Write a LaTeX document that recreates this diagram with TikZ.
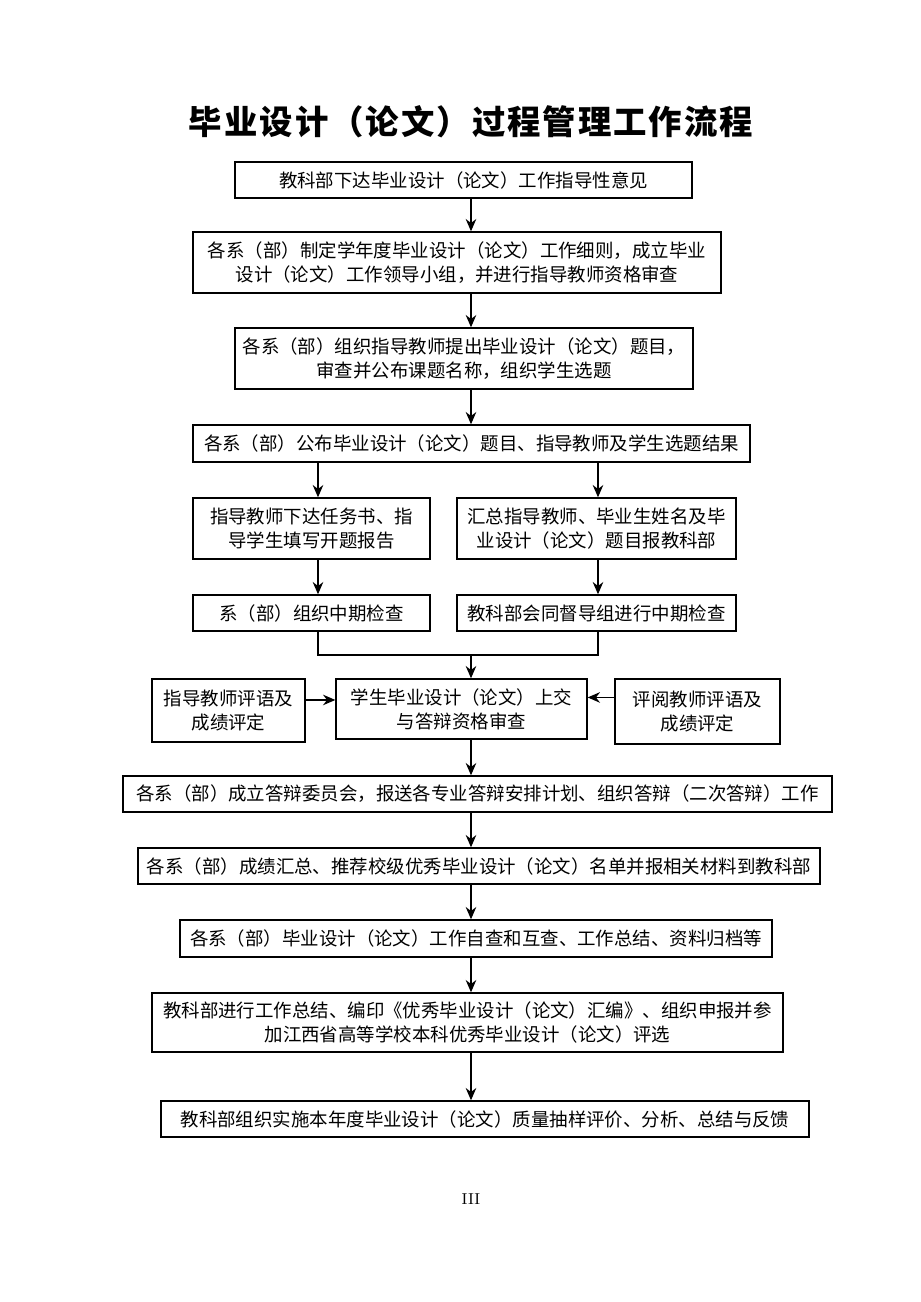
\documentclass[tikz,border=0pt]{standalone}
\usepackage{fontspec}
\newfontfamily\cjk{Noto Sans CJK SC}
\newfontfamily\cjktitle[LetterSpace=6]{Noto Sans CJK SC}
\usetikzlibrary{arrows.meta,positioning}

\begin{document}
\begin{tikzpicture}[x=0.02cm,y=-0.02cm,
    stepbox/.style={draw,line width=0.8pt,align=center,inner sep=2pt,
      font=\cjk\fontsize{10.5}{13.6}\selectfont},
    flow/.style={-{Stealth[length=7pt,width=6pt]},line width=0.8pt}]
  \useasboundingbox[fill=white] (0,0) rectangle (920,1302);

  % title
  \node[font=\cjktitle\bfseries\fontsize{19}{22}\selectfont] (T) at (471,122) {毕业设计（论文）过程管理工作流程};

  % columns for the connectors
  \coordinate (S) at (471,0);
  \coordinate (CL) at (318,0);
  \coordinate (CR) at (598,0);
  \coordinate (J) at (471,655);

  \node[stepbox,minimum width=9.14cm,minimum height=0.72cm] (B1) at (463.5,180) {教科部下达毕业设计（论文）工作指导性意见};
  \node[stepbox,minimum width=10.56cm,minimum height=1.22cm] (B2) at (457,262.5) {各系（部）制定学年度毕业设计（论文）工作细则，成立毕业\\设计（论文）工作领导小组，并进行指导教师资格审查};
  \node[stepbox,minimum width=9.16cm,minimum height=1.22cm] (B3) at (464,358.5) {各系（部）组织指导教师提出毕业设计（论文）题目，\\审查并公布课题名称，组织学生选题};
  \node[stepbox,minimum width=11.14cm,minimum height=0.74cm] (B4) at (471.5,443.5) {各系（部）公布毕业设计（论文）题目、指导教师及学生选题结果};

  \node[stepbox,minimum width=4.74cm,minimum height=1.22cm] (B5L) at (311.5,528.5) {指导教师下达任务书、指\\导学生填写开题报告};
  \node[stepbox,minimum width=5.58cm,minimum height=1.22cm] (B5R) at (596.5,528.5) {汇总指导教师、毕业生姓名及毕\\业设计（论文）题目报教科部};
  \node[stepbox,minimum width=4.74cm,minimum height=0.72cm] (B6L) at (311.5,613) {系（部）组织中期检查};
  \node[stepbox,minimum width=5.58cm,minimum height=0.72cm] (B6R) at (596.5,613) {教科部会同督导组进行中期检查};

  \node[stepbox,minimum width=5.02cm,minimum height=1.2cm] (B7) at (461.5,709) {学生毕业设计（论文）上交\\与答辩资格审查};
  \node[stepbox,minimum width=3.06cm,minimum height=1.26cm] (L7) at (228.5,710.5) {指导教师评语及\\成绩评定};
  \node[stepbox,minimum width=3.3cm,minimum height=1.3cm] (R7) at (697.5,711.5) {评阅教师评语及\\成绩评定};

  \node[stepbox,minimum width=14.18cm,minimum height=0.72cm] (B8) at (477.5,794) {各系（部）成立答辩委员会，报送各专业答辩安排计划、组织答辩（二次答辩）工作};
  \node[stepbox,minimum width=13.64cm,minimum height=0.72cm] (B9) at (479,866) {各系（部）成绩汇总、推荐校级优秀毕业设计（论文）名单并报相关材料到教科部};
  \node[stepbox,minimum width=11.84cm,minimum height=0.74cm] (B10) at (476,938.5) {各系（部）毕业设计（论文）工作自查和互查、工作总结、资料归档等};
  \node[stepbox,minimum width=12.62cm,minimum height=1.18cm] (B11) at (467.5,1022.5) {教科部进行工作总结、编印《优秀毕业设计（论文）汇编》、组织申报并参\\加江西省高等学校本科优秀毕业设计（论文）评选};
  \node[stepbox,minimum width=12.96cm,minimum height=0.72cm] (B12) at (485,1119) {教科部组织实施本年度毕业设计（论文）质量抽样评价、分析、总结与反馈};

  % page number
  \node[font=\fontsize{9}{10}\selectfont] (P) at (471,1199) {III};

  % connectors
  \draw[flow] (B1.south -| S) -- (B2.north -| S);
  \draw[flow] (B2.south -| S) -- (B3.north -| S);
  \draw[flow] (B3.south -| S) -- (B4.north -| S);
  \draw[flow] (B4.south -| CL) -- (B5L.north -| CL);
  \draw[flow] (B4.south -| CR) -- (B5R.north -| CR);
  \draw[flow] (B5L.south -| CL) -- (B6L.north -| CL);
  \draw[flow] (B5R.south -| CR) -- (B6R.north -| CR);
  \draw[line width=0.8pt] (B6L.south -| CL) |- (J) -| (B6R.south -| CR);
  \draw[flow] (J) -- (B7.north -| J);
  \draw[flow] ([yshift=6]L7.east) -- ([yshift=6]L7.east -| B7.west);
  \draw[flow] ([yshift=8]R7.west) -- ([yshift=8]R7.west -| B7.east);
  \draw[flow] (B7.south -| S) -- (B8.north -| S);
  \draw[flow] (B8.south -| S) -- (B9.north -| S);
  \draw[flow] (B9.south -| S) -- (B10.north -| S);
  \draw[flow] (B10.south -| S) -- (B11.north -| S);
  \draw[flow] (B11.south -| S) -- (B12.north -| S);
\end{tikzpicture}
\end{document}
